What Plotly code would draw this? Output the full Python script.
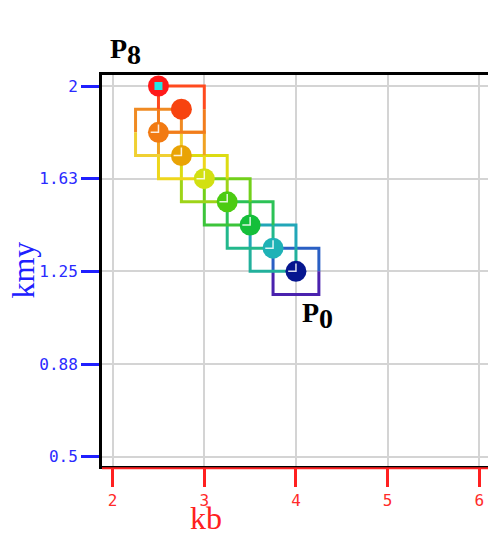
import plotly.graph_objects as go

# ---- data ----
kb = [4.0, 3.75, 3.5, 3.25, 3.0, 2.75, 2.5, 2.75, 2.5]
kmy = [1.25, 1.34375, 1.4375, 1.53125, 1.625, 1.71875, 1.8125, 1.90625, 2.0]
point_colors = ["#06168f", "#1fb2b6", "#14bf3a", "#4ccb12", "#d2e012",
                "#e9a304", "#f27a12", "#f7430f", "#ff1a1a"]
# squares drawn around points P0..P7 (half sizes in data units)
half_w = 0.25
half_h = 0.09375
square_top_colors = ["#2a5fc4", "#22a6b8", "#2cc256", "#72d01a", "#dcdc12",
                     "#f0a222", "#f08a22", "#ff4a1e"]
square_bottom_colors = ["#4a22ae", "#22b09c", "#22b88c", "#3cc43a", "#9ed418",
                        "#eed61c", "#f0d032", "#f27c1c"]
x_ticks = [2, 3, 4, 5, 6]
y_tick_vals = [0.5, 0.875, 1.25, 1.625, 2.0]
y_tick_text = ["0.5", "0.88", "1.25", "1.63", "2"]

fig = go.Figure()

# squares (gradient approximated: upper half / lower half)
for k in range(8):
    cx, cy = kb[k], kmy[k]
    x0, x1 = cx - half_w, cx + half_w
    y0, y1 = cy - half_h, cy + half_h
    fig.add_trace(go.Scatter(
        x=[x0, x0, x1, x1], y=[cy, y1, y1, cy], mode="lines",
        line=dict(color=square_top_colors[k], width=3), hoverinfo="skip",
        showlegend=False))
    fig.add_trace(go.Scatter(
        x=[x0, x0, x1, x1], y=[cy, y0, y0, cy], mode="lines",
        line=dict(color=square_bottom_colors[k], width=3), hoverinfo="skip",
        showlegend=False))

# circles
fig.add_trace(go.Scatter(
    x=kb, y=kmy, mode="markers",
    marker=dict(size=21, color=point_colors, line=dict(width=0)),
    showlegend=False, cliponaxis=False))

# small white highlight strokes inside circles
dx = 0.085
dy = 0.032
for k in range(7):
    cx, cy = kb[k], kmy[k]
    fig.add_trace(go.Scatter(
        x=[cx - dx, cx, cx], y=[cy, cy, cy + dy], mode="lines",
        line=dict(color="rgba(255,255,255,0.85)", width=1.5),
        hoverinfo="skip", showlegend=False))

# current point marker
fig.add_trace(go.Scatter(
    x=[kb[-1]], y=[kmy[-1]], mode="markers",
    marker=dict(symbol="square", size=8, color="#22e6e6", line=dict(width=0)),
    showlegend=False, cliponaxis=False))

label_font = dict(family="Liberation Serif, Times New Roman, serif", size=28, color="black")
fig.add_annotation(x=kb[-1], y=kmy[-1], text="<b>P<sub><span style='font-size:28px'>8</span></sub></b>",
                   showarrow=False, xshift=-33, yshift=35, font=label_font)
fig.add_annotation(x=kb[0], y=kmy[0], text="<b>P<sub><span style='font-size:28px'>0</span></sub></b>",
                   showarrow=False, xshift=22, yshift=-44, font=label_font)

# axis titles
title_family = "Liberation Serif, Times New Roman, serif"
fig.add_annotation(xref="paper", yref="paper", x=-0.207, y=0.5, text="kmy",
                   xanchor="center", yanchor="middle",
                   textangle=-90, showarrow=False,
                   font=dict(family=title_family, size=32, color="#2020ff"))
fig.add_annotation(xref="x", yref="paper", x=3.02, y=-0.133, text="kb",
                   xanchor="center", yanchor="middle",
                   showarrow=False,
                   font=dict(family=title_family, size=32, color="#ff2020"))

# red underline of the x axis
fig.add_shape(type="line", xref="paper", yref="paper", x0=0, x1=1, y0=-0.006, y1=-0.006,
              line=dict(color="#ff2020", width=2))

tick_font_blue = dict(family="DejaVu Sans Mono, monospace", size=16, color="#2a2aff")
tick_font_red = dict(family="DejaVu Sans Mono, monospace", size=16, color="#ff2a2a")

fig.update_layout(
    width=488, height=535,
    margin=dict(l=102, r=0, t=75, b=69),
    paper_bgcolor="white", plot_bgcolor="white",
    xaxis=dict(range=[1.884, 6.095], tickvals=x_ticks, ticktext=[str(v) for v in x_ticks],
               showgrid=True, gridcolor="#d4d4d4", gridwidth=2, zeroline=False,
               showline=True, linecolor="black", linewidth=3, mirror=True,
               ticks="outside", ticklen=18, tickwidth=3, tickcolor="#ff2020",
               tickfont=tick_font_red),
    yaxis=dict(range=[0.4624, 2.0445], tickvals=y_tick_vals, ticktext=y_tick_text,
               showgrid=True, gridcolor="#d4d4d4", gridwidth=2, zeroline=False,
               showline=True, linecolor="black", linewidth=3, mirror=False,
               ticks="outside", ticklen=18, tickwidth=3, tickcolor="#2020ff",
               tickfont=tick_font_blue),
)

fig.write_html("out.html")
